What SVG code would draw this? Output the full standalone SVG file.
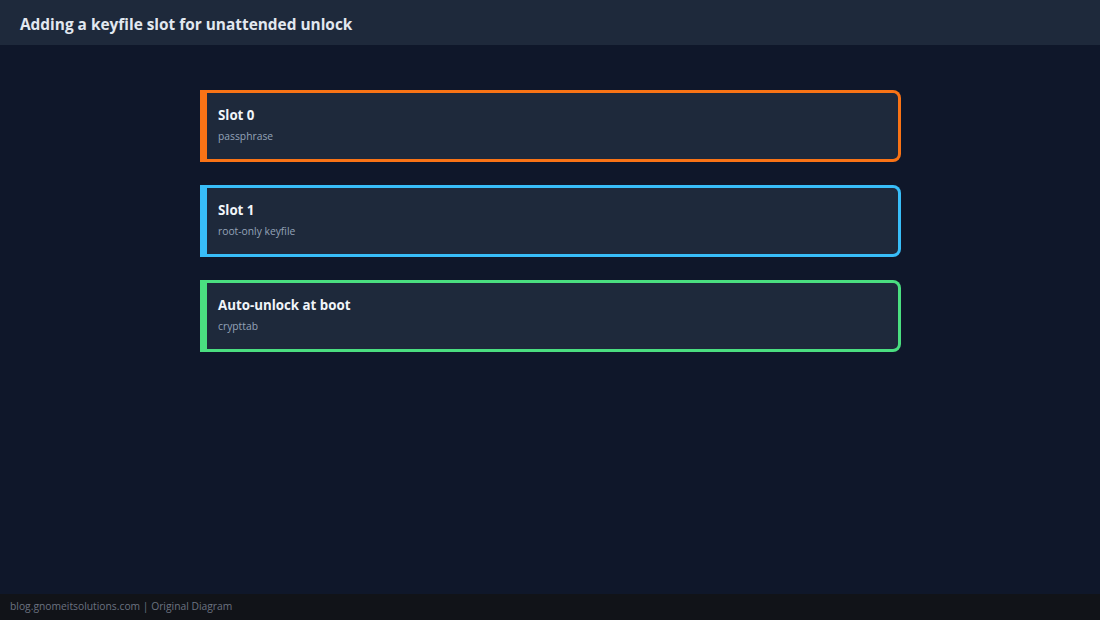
<svg xmlns="http://www.w3.org/2000/svg" width="1100" height="620" viewBox="0 0 1100 620">
<style>
.title{font-family:"Open Sans","Noto Sans",sans-serif;font-weight:700;font-size:15.4px;fill:#e2e8f0}
.ct{font-family:"Open Sans","Noto Sans",sans-serif;font-weight:700;font-size:13.3px;fill:#f1f5f9}
.cs{font-family:"Open Sans","Noto Sans",sans-serif;font-size:10.3px;fill:#94a3b8}
.foot{font-family:"Open Sans","Noto Sans",sans-serif;font-size:10.3px;fill:#6b7280}
.inner{fill:#1e293b}
</style>
<rect x="0" y="0" width="1100" height="620" fill="#0f172a"/>
<rect x="0" y="0" width="1100" height="45" fill="#1e293b"/>
<text class="title" x="20" y="30">Adding a keyfile slot for unattended unlock</text>
<g id="connectors"></g>
<g id="slot0">
<path d="M200 90 H893 A8 8 0 0 1 901 98 V154 A8 8 0 0 1 893 162 H200 Z" fill="#f97316"/>
<path class="inner" d="M207 93 H893 A5 5 0 0 1 898 98 V154 A5 5 0 0 1 893 159 H207 Z"/>
<text class="ct" x="218" y="120">Slot 0</text>
<text class="cs" x="218" y="140">passphrase</text>
</g>
<g id="slot1">
<path d="M200 185 H893 A8 8 0 0 1 901 193 V249 A8 8 0 0 1 893 257 H200 Z" fill="#38bdf8"/>
<path class="inner" d="M207 188 H893 A5 5 0 0 1 898 193 V249 A5 5 0 0 1 893 254 H207 Z"/>
<text class="ct" x="218" y="215">Slot 1</text>
<text class="cs" x="218" y="235">root-only keyfile</text>
</g>
<g id="autounlock">
<path d="M200 280 H893 A8 8 0 0 1 901 288 V344 A8 8 0 0 1 893 352 H200 Z" fill="#4ade80"/>
<path class="inner" d="M207 283 H893 A5 5 0 0 1 898 288 V344 A5 5 0 0 1 893 349 H207 Z"/>
<text class="ct" x="218" y="310">Auto-unlock at boot</text>
<text class="cs" x="218" y="330">crypttab</text>
</g>
<rect x="0" y="594" width="1100" height="26" fill="#111318"/>
<text class="foot" x="10" y="610">blog.gnomeitsolutions.com | Original Diagram</text>
</svg>
